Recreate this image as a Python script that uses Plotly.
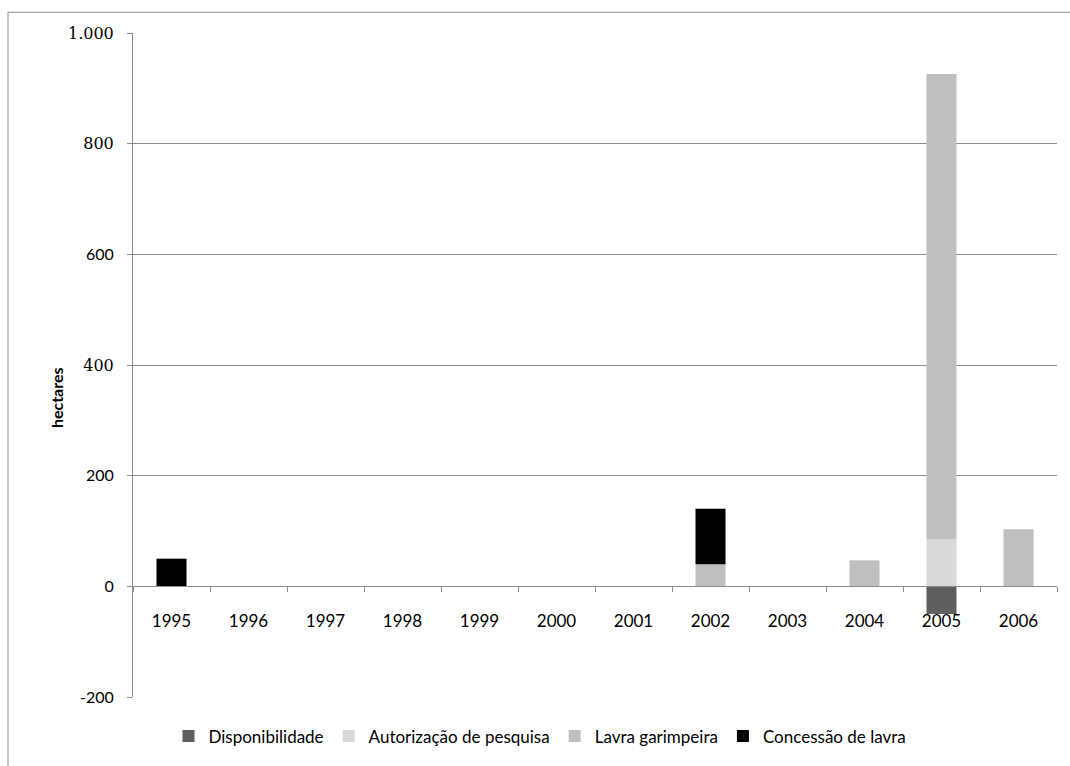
import plotly.graph_objects as go

years = ["1995", "1996", "1997", "1998", "1999", "2000",
         "2001", "2002", "2003", "2004", "2005", "2006"]
disponibilidade = [0, 0, 0, 0, 0, 0, 0, 0, 0, 0, -50, 0]
autorizacao = [0, 0, 0, 0, 0, 0, 0, 0, 0, 0, 85, 0]
lavra_garimpeira = [0, 0, 0, 0, 0, 0, 0, 40, 0, 47, 841, 103]
concessao_lavra = [50, 0, 0, 0, 0, 0, 0, 100, 0, 0, 0, 0]

y_tickvals = [-200, 0, 200, 400, 600, 800, 1000]
y_ticktext = ["-200", "0", "200", "400", "600", "800", "1.000"]
# labels set in a serif face on the value axis
serif_labels = {"400", "800", "1.000"}

series = [
    ("Disponibilidade", disponibilidade, "#5f5f5f"),
    ("Autorização de pesquisa", autorizacao, "#d9d9d9"),
    ("Lavra garimpeira", lavra_garimpeira, "#bfbfbf"),
    ("Concessão de lavra", concessao_lavra, "#000000"),
]

fig = go.Figure()
for name, vals, color in series:
    fig.add_trace(go.Bar(
        x=years, y=vals, name=name,
        marker=dict(color=color, line=dict(width=0)),
    ))

W, H = 1070, 766
ml, mr, mt, mb = 133, 13, 33, 61
pw, ph = W - ml - mr, H - mt - mb

y_min, y_max = -200, 1000
zero_frac = (0 - y_min) / (y_max - y_min)

y_labels = [
    f'<span style="font-family:\'DejaVu Serif\'">{t}</span>' if t in serif_labels else t
    for t in y_ticktext
]

fig.update_layout(
    width=W, height=H,
    margin=dict(l=ml, r=mr, t=mt, b=mb, pad=0),
    paper_bgcolor="white", plot_bgcolor="white",
    barmode="relative", bargap=0.61,
    font=dict(family="Lato", color="#000000", size=16),
    showlegend=True,
    legend=dict(
        orientation="h", x=(540 - ml) / pw, xanchor="center",
        y=1 - (745 - mt) / ph, yanchor="middle",
        font=dict(family="Lato", size=17, color="#000000"),
        itemwidth=30, tracegroupgap=0, traceorder="normal",
    ),
    xaxis=dict(
        type="category", anchor="free", position=zero_frac,
        showline=True, linecolor="#8c8c8c", linewidth=1,
        ticks="outside", ticklen=5, tickcolor="#8c8c8c", tickwidth=1,
        tickson="boundaries", showgrid=False, zeroline=False,
        tickfont=dict(family="Lato", size=17, color="#000000"),
        ticklabelstandoff=19,
    ),
    yaxis=dict(
        range=[y_min, y_max], tickvals=y_tickvals, ticktext=y_labels,
        showline=True, linecolor="#8c8c8c", linewidth=1,
        ticks="outside", ticklen=5, tickcolor="#8c8c8c",
        showgrid=True, gridcolor="#8c8c8c", gridwidth=1,
        zeroline=False,
        tickfont=dict(family="Lato", size=16, color="#000000"),
        ticklabelstandoff=10,
    ),
    annotations=[dict(
        text="<b>hectares</b>", xref="paper", yref="paper",
        x=(45 - ml) / pw, y=1 - (402 - mt) / ph, textangle=-90,
        showarrow=False, font=dict(family="Lato", size=16, color="#000000"),
    )],
    shapes=[dict(
        type="rect", xref="paper", yref="paper",
        x0=(8 - ml) / pw, x1=(1080 - ml) / pw,
        y0=1 - (780 - mt) / ph, y1=1 + (mt - 12) / ph,
        line=dict(color="#8c8c8c", width=1), layer="below",
    )],
)

fig.write_html("out.html")
